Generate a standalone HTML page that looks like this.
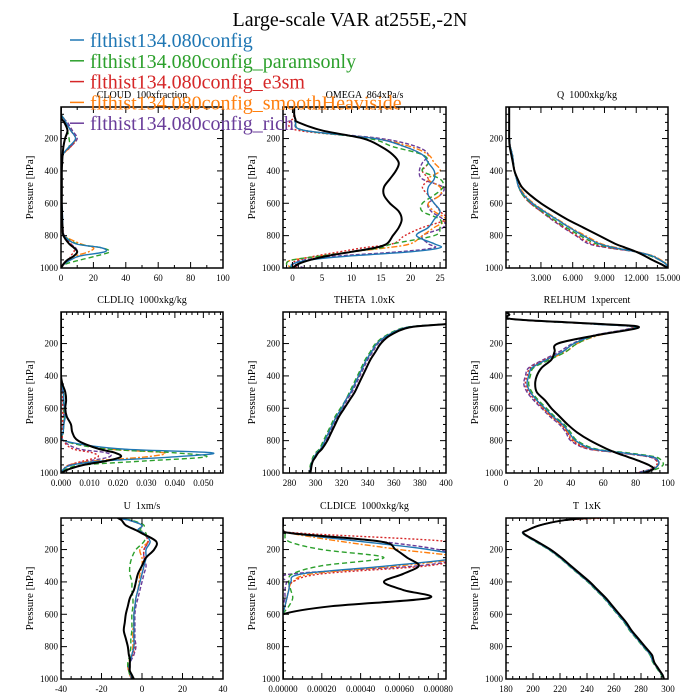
<!DOCTYPE html>
<html><head><meta charset="utf-8"><style>
html,body{margin:0;padding:0;background:#fff}
svg{display:block}
text{font-family:"Liberation Serif",serif}
.pt{white-space:pre}
</style></head><body>
<svg id="fig" width="700" height="700" viewBox="0 0 700 700" xmlns="http://www.w3.org/2000/svg">
<text x="350" y="26" font-size="20" text-anchor="middle">Large-scale VAR at255E,-2N</text>
<g id="panels"></g>
<g id="legend"></g>
</svg>
<script>
const levels=[5,20,50,80,100,150,200,250,300,350,400,450,500,550,600,650,700,750,800,850,875,900,925,950,975,1000];
const seriesNames=["obs","flthist134.080config","flthist134.080config_paramsonly","flthist134.080config_e3sm","flthist134.080config_smoothHeaviside","flthist134.080config_rich"];
const panelTitles=["CLOUD  100xfraction","OMEGA  864xPa/s","Q  1000xkg/kg","CLDLIQ  1000xkg/kg","THETA  1.0xK","RELHUM  1xpercent","U  1xm/s","CLDICE  1000xkg/kg","T  1xK"];
const yTicks=[200,400,600,800,1000];
const cloudTicks=[0,20,40,60,80,100];
const omegaTicks=[0,5,10,15,20,25];
const qTicks=[3,6,9,12,15];
const cldliqTicks=[0,0.01,0.02,0.03,0.04,0.05];
const thetaTicks=[280,300,320,340,360,380,400];
const relhumTicks=[0,20,40,60,80,100];
const uTicks=[-40,-20,0,20,40];
const cldiceTicks=[0,0.0002,0.0004,0.0006,0.0008];
const tTicks=[180,200,220,240,260,280,300];

const cloudData=[
[0,0,0,0.5,2,4,2.5,1.5,1,0.7,0.5,0.5,0.5,0.5,0.5,0.6,0.7,1,1.5,5,8,10,8,4,1.5,0],
[0,0,0,2,3,6,9,5,1,0.5,0.3,0.3,0.3,0.3,0.5,0.8,1,1,2,9,25,27,12,6,2,0],
[0,0,0,2,3,4,5,5,1,0.5,0.3,0.3,0.3,0.3,0.5,0.6,0.8,1,2,10,25,30,22,12,3,0],
[0,0,0,2,3,6,9,6,1,0.5,0.3,0.3,0.3,0.3,0.4,0.5,0.7,1,2,6,8,8,6,5,2,0],
[0,0,0,2,3,6,9,6,1,0.5,0.3,0.3,0.3,0.3,0.4,0.5,0.7,1,2,12,20,17,9,5,2,0],
[0,0,0,2,4,7,10,6,1,0.5,0.3,0.3,0.3,0.3,0.4,0.5,0.7,1,2,6,9,10,8,5,2,0]];
const omegaData=[
[0.3,0.3,0.3,0.5,1,5,12,15,17,18,17.5,16.5,15.5,15.5,16.5,18,18.5,18,17,16,14,10,6,3,1,0],
[0.3,0.3,0.3,0.5,0.5,2,14,19,22,23,24,24,23,23,24,25,24,23,21,24,25,20,10,3,0,0],
[0.3,0.3,0.3,0.5,0.5,2,13,17,22,23,22,25,25.5,24,22,22,25,25,24,17,15,10,5,0,-1,0],
[0.3,0.3,0.3,0,-0.5,1,14,19,22,23,22,23,22,23,24,25,26,22,19,17,12,8,4,1,0,1],
[0.3,0.3,0.3,0.5,0.5,2,14,20,23,24,25,23,25,25,23,24,26,24,22,20,16,10,5,0,-1,0],
[0.3,0.3,0.3,0.5,0.5,2,15,21,23,22,21.5,22,25.5,25,23,23.5,25.5,25.5,22,23,24,18,8,2,0.5,2]];
const qData=[
[0,0,0,0,0,0,0,0.05,0.2,0.35,0.5,0.8,1.2,2,3,4.2,5.5,7,8.5,10,11,12,12.8,13.5,14.3,15],
[0,0,0,0,0,0,0.02,0.1,0.3,0.4,0.5,0.7,0.9,1.4,2.2,3.3,4.5,5.7,7,8.5,10,12,13.5,14.2,14.8,15],
[0,0,0,0,0,0,0.02,0.1,0.3,0.4,0.5,0.7,0.9,1.3,2.1,3.1,4.2,5.4,6.7,8.2,9.8,12,13.3,14.2,14.8,15],
[0,0,0,0,0,0,0.02,0.1,0.3,0.4,0.5,0.7,0.9,1.3,2,3,4.1,5.2,6.4,7.8,9.4,12,13.4,14.2,14.8,15],
[0,0,0,0,0,0,0.02,0.1,0.3,0.4,0.5,0.7,1,1.5,2.3,3.4,4.6,5.8,7.2,8.7,10.2,12.1,13.6,14.3,14.9,15],
[0,0,0,0,0,0,0.02,0.1,0.3,0.4,0.5,0.7,0.9,1.3,2,3,4,5.1,6.3,7.5,9.3,12,13.4,14.2,14.8,15]];
const cldliqData=[
[0,0,0,0,0,0,0,0,0,0,0,0.0005,0.0015,0.0018,0.0015,0.002,0.0035,0.004,0.006,0.013,0.019,0.021,0.016,0.008,0.003,0],
[0,0,0,0,0,0,0,0,0,0,0,0.0003,0.0008,0.001,0.0012,0.0015,0.001,0.0008,0.001,0.02,0.053,0.04,0.015,0.004,0.001,0],
[0,0,0,0,0,0,0,0,0,0,0,0.0003,0.0008,0.001,0.001,0.0012,0.001,0.0008,0.001,0.015,0.04,0.051,0.03,0.008,0.002,0],
[0,0,0,0,0,0,0,0,0,0,0,0.0002,0.0005,0.0006,0.0006,0.0006,0.0005,0.0005,0.0008,0.004,0.011,0.013,0.008,0.003,0.001,0],
[0,0,0,0,0,0,0,0,0,0,0,0.0003,0.0008,0.001,0.001,0.0012,0.001,0.0008,0.001,0.016,0.036,0.03,0.012,0.003,0.001,0],
[0,0,0,0,0,0,0,0,0,0,0,0.0002,0.0006,0.0008,0.0008,0.001,0.0008,0.0006,0.0008,0.006,0.016,0.017,0.01,0.003,0.001,0]];
const thetaData=[
[520,490,440,400,372,357,350,346,342,339,336,333,330,326,322,318,315,312,309,305,302,300,298,297,296.5,296],
[520,490,440,398,370,355,347,343,339,336,333,330,327,323,320,316,313,310,307,304,301,299,297.5,296.5,296,295.5],
[520,490,440,398,369,354,346,342,338,335,332,329,326,323,319,315,312,309,306,303,300,298,297,296,295.5,295],
[520,490,440,398,370,355,347,343,339,336,333,330,327,323,320,316,313,310,307,304,301,299,297.5,296.5,296,295.5],
[520,490,440,398,370,355,347,343,339,336,333,330,327,323,320,316,313,310,307,304,301,299,297.5,296.5,296,295.5],
[520,490,440,399,371,356,348,344,340,337,334,331,328,324,321,317,314,311,308,304,301.5,299.5,298,297,296,295.5]];
const relhumData=[
[0,2,5,60,82,55,32,30,28,22,19,18,19,24,28,33,38,44,52,62,68,75,82,88,91,85],
[0,2,5,55,80,55,42,35,25,16,14,13,15,19,24,29,35,39,43,53,72,90,94,94,91,82],
[0,2,5,55,80,56,44,37,27,17,15,14,16,20,25,30,36,40,44,55,75,92,96,97,93,84],
[0,2,5,55,79,55,42,35,24,15,13,12,14,18,23,28,34,38,41,51,70,89,93,93,90,81],
[0,2,5,55,79,57,44,37,26,16,14,13,15,19,23,28,34,38,42,52,71,90,94,94,91,82],
[0,2,5,55,78,54,41,33,23,14,12,11,13,17,22,27,33,37,40,50,70,88,93,94,90,80]];
const uData=[
[-12,-10,-8,-3,0,7,6,2,0,-2,-3,-4,-6,-7,-8,-8.5,-9,-8,-7,-6.5,-6,-6,-6,-6,-5,-4],
[-12,-6,0,-2,1,4,2,2,1,0,-1,-2,-3,-3.5,-4,-4,-4,-4,-4,-5,-5.5,-6,-6.5,-6,-5.5,-5],
[-12,-5,1,-1,2,1,-3,-5,-6,-6,-5,-5,-4.5,-4.5,-5,-5,-5,-5.5,-5.5,-6,-6.5,-7,-7,-6.5,-6,-5],
[-12,-6,0,-2,1,3,1,1,1,0,-1,-2,-3,-3.5,-4,-4,-4,-4,-3.5,-4.5,-5.5,-6,-7,-6.5,-6,-5],
[-12,-6,0,-2,1,3,-1,0,0,-1,-1.5,-2,-3,-3.5,-4,-4,-4.5,-4.5,-4.5,-5,-6,-6.5,-7,-6.5,-6,-5],
[-12,-6,0,-2,1,3,1,1,2,1,0,-1,-2,-3,-3.5,-3.5,-3.5,-3.5,-3,-4,-5,-6,-7,-6.5,-6,-5]];
const cldiceData=[
[0,0,0,0,0.00005,0.0005,0.00058,0.00064,0.0007,0.00062,0.00052,0.00062,0.00075,0.00025,0,0,0,0,0,0,0,0,0,0,0,0],
[0,0,0,0,0.00005,0.0004,0.00075,0.0009,0.00055,0.0001,0.00004,0.00003,0.00002,0.00001,0,0,0,0,0,0,0,0,0,0,0,0],
[0,0,0,0,0.00001,0.00003,0.0002,0.00052,0.0002,0.00005,0.00003,0.00004,0.00005,0.00003,0,0,0,0,0,0,0,0,0,0,0,0],
[0,0,0,0,0.0001,0.00085,0.0009,0.0009,0.00075,0.0002,0.00005,0.00003,0.00002,0.00001,0,0,0,0,0,0,0,0,0,0,0,0],
[0,0,0,0,0.00004,0.0003,0.0006,0.0009,0.0006,0.00015,0.00005,0.00003,0.00002,0.00001,0,0,0,0,0,0,0,0,0,0,0,0],
[0,0,0,0,0.00006,0.0005,0.0008,0.0009,0.0007,0.00005,0.00002,0.00001,0.00001,0,0,0,0,0,0,0,0,0,0,0,0,0]];
const tData=[
[240,222,205,196,193,203,213,221,228,235,242,248,254,259,264,269,273,278,283,288,289,290,292,294,296,297],
[242,222,205,196,192.5,202,212,220,227,234,241,247,253,258,263,268,272,277,282,287,288,289.5,291.5,293.5,295.5,297],
[244,222,205,196,192.5,201.5,211.5,219.5,226.5,233.5,240.5,246.5,252.5,257.5,262.5,267.5,271.5,276.5,281.5,286.5,287.5,289,291,293,295,297],
[255,223,205,196,192.5,202,212,220,227,234,241,247,253,258,263,268,272,277,282,287,288,289.5,291.5,293.5,295.5,297],
[248,222,205,196,192.5,202,212,220,227,234,241,247,253,258,263,268,272,277,282,287,288,289.5,291.5,293.5,295.5,297],
[246,222,205,196,192.5,202,212,220,227,234,241,247,253,258,263,268,272,277,282,287,288,289.5,291.5,293.5,295.5,297]];

const colors=["#000000","#1f77b4","#2ca02c","#d62728","#ff7f0e","#6a3d9a"];
const dashes=["","","5,3","2,2","6,2,2,2","4,2"];
const widths=[2,1.4,1.4,1.4,1.4,1.4];
const NS="http://www.w3.org/2000/svg";
const cols=[[61,223],[283,446],[506,668]];
const rows=[[107,268],[312,473],[518,679]];

const panels=[
{name:"cloud",data:cloudData,xmin:0,xmax:100,ticks:cloudTicks,fmt:v=>String(v),minor:10},
{name:"omega",data:omegaData,xmin:-1.6,xmax:26,ticks:omegaTicks,fmt:v=>String(v),minor:1},
{name:"q",data:qData,xmin:-0.3,xmax:15,ticks:qTicks,fmt:v=>v.toFixed(3),minor:1},
{name:"cldliq",data:cldliqData,xmin:0,xmax:0.0569,ticks:cldliqTicks,fmt:v=>v.toFixed(3),minor:0.002},
{name:"theta",data:thetaData,xmin:275,xmax:400,ticks:thetaTicks,fmt:v=>String(v),minor:5},
{name:"relhum",data:relhumData,xmin:0,xmax:100,ticks:relhumTicks,fmt:v=>String(v),minor:5},
{name:"u",data:uData,xmin:-40,xmax:40,ticks:uTicks,fmt:v=>String(v),minor:5},
{name:"cldice",data:cldiceData,xmin:0,xmax:0.00084,ticks:cldiceTicks,fmt:v=>v.toFixed(5),minor:0.00005},
{name:"t",data:tData,xmin:180,xmax:300,ticks:tTicks,fmt:v=>String(v),minor:5}];

function mk(tag,attrs,parent){const e=document.createElementNS(NS,tag);for(const k in attrs)e.setAttribute(k,attrs[k]);if(parent)parent.appendChild(e);return e;}
function smooth(pts){let d="M"+pts[0][0].toFixed(2)+","+pts[0][1].toFixed(2);
for(let i=0;i<pts.length-1;i++){const p0=pts[Math.max(0,i-1)],p1=pts[i],p2=pts[i+1],p3=pts[Math.min(pts.length-1,i+2)];
const c1=[p1[0]+(p2[0]-p0[0])/6,p1[1]+(p2[1]-p0[1])/6],c2=[p2[0]-(p3[0]-p1[0])/6,p2[1]-(p3[1]-p1[1])/6];
d+="C"+c1[0].toFixed(2)+","+c1[1].toFixed(2)+" "+c2[0].toFixed(2)+","+c2[1].toFixed(2)+" "+p2[0].toFixed(2)+","+p2[1].toFixed(2);}return d;}

const root=document.getElementById("panels");
panels.forEach((P,idx)=>{
  const [x0,x1]=cols[idx%3],[y0,y1]=rows[Math.floor(idx/3)];
  const xs=v=>x0+(v-P.xmin)/(P.xmax-P.xmin)*(x1-x0);
  const ys=p=>y0+(p-5)/(995)*(y1-y0);
  const g=mk("g",{},root);
  
  
  const clip=mk("clipPath",{id:"clip"+idx},g);mk("rect",{x:x0,y:y0,width:x1-x0,height:y1-y0},clip);
  const t=mk("text",{x:(x0+x1)/2,y:y0-9,"font-size":10,"text-anchor":"middle","class":"pt"},g);t.textContent=panelTitles[idx];
  
  
  const yl=mk("text",{x:0,y:0,"font-size":11,"text-anchor":"middle",transform:`translate(${x0-28},${(y0+y1)/2}) rotate(-90)`},g);yl.textContent="Pressure [hPa]";
  
  
  const lines=mk("g",{"clip-path":`url(#clip${idx})`,fill:"none"},g);
  for(let s=P.data.length-1;s>=0;s--){
    const pts=levels.map((p,i)=>[xs(P.data[s][i]),ys(p)]);
    const path=mk("path",{d:smooth(pts),stroke:colors[s],"stroke-width":widths[s],"stroke-dasharray":dashes[s]},lines);
    
    
  }
  const tk=mk("g",{stroke:"#000","stroke-width":1},g);
  for(let p=50;p<=1000;p+=50){const y=ys(p);const L=(p%200===0)?6:3;
    mk("line",{x1:x0,y1:y,x2:x0+L,y2:y},tk);mk("line",{x1:x1,y1:y,x2:x1-L,y2:y},tk);}
  yTicks.forEach(p=>{const tt=mk("text",{x:x0-3,y:ys(p)+3,"font-size":9,"text-anchor":"end",stroke:"none"},g);tt.textContent=String(p);
    
    });
  const mStart=Math.ceil(P.xmin/P.minor-1e-6);
  for(let k=mStart;k*P.minor<=P.xmax+1e-12;k++){const v=k*P.minor;const x=xs(v);
    const major=P.ticks.some(q=>Math.abs(q-v)<P.minor/10);const L=major?6:3;
    mk("line",{x1:x,y1:y0,x2:x,y2:y0+L},tk);mk("line",{x1:x,y1:y1,x2:x,y2:y1-L},tk);}
  P.ticks.forEach(v=>{const tt=mk("text",{x:xs(v),y:y1+13,"font-size":9,"text-anchor":"middle"},g);tt.textContent=P.fmt(v);
    
    });
  const fr=mk("rect",{x:x0,y:y0,width:x1-x0,height:y1-y0,fill:"none",stroke:"#000","stroke-width":1.5},g);
  
  
});
const leg=document.getElementById("legend");
for(let s=1;s<6;s++){const cy=40+(s-1)*20.8;
  const ln=mk("line",{x1:70,y1:cy,x2:84,y2:cy,stroke:colors[s],"stroke-width":1.5},leg);
  
  
  const tx=mk("text",{x:90,y:cy+7,"font-size":20,fill:colors[s]},leg);tx.textContent=seriesNames[s];
  
  }
</script>
</body></html>
